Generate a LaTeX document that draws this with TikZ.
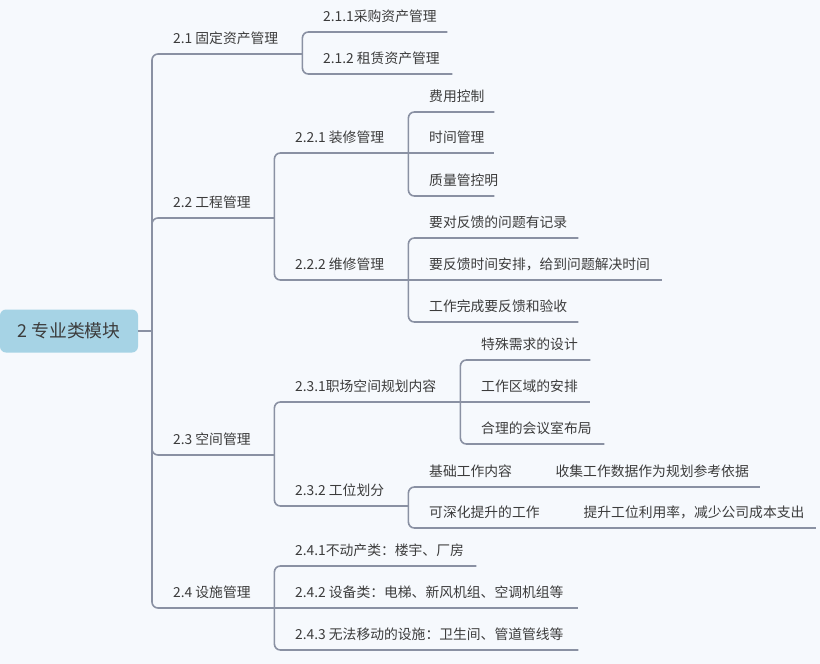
\documentclass[tikz,border=0pt]{standalone}
\usepackage{fontspec}
\setmainfont{Noto Sans CJK SC}
\definecolor{bgblue}{RGB}{246,249,253}
\definecolor{rootblue}{RGB}{166,211,229}
\definecolor{linegray}{RGB}{138,145,163}
\definecolor{txtgray}{RGB}{60,60,60}

\begin{document}
\begin{tikzpicture}[
    x=1pt, y=-1pt,
    tpad/.code={\def\tpad{#1}},
    root/.style={fill=rootblue, rounded corners=6pt, minimum width=138pt, minimum height=43pt, text=txtgray, font=\fontsize{17.8}{20}\selectfont},
    topic/.style={tpad=21pt, anchor=south west, inner sep=0pt, minimum height=31pt, text=txtgray, font=\fontsize{13.8}{16}\selectfont,
        execute at begin node={\hbox to #1\bgroup\hskip\tpad}, execute at end node={\hss\egroup}},
    tail/.style={topic=#1, tpad=8pt},
    link/.style={draw=linegray, line width=1.6pt, rounded corners=6pt}
]
    % Canvas
    \fill[bgblue] (0,0) rectangle (820,664);
    \useasboundingbox (0,0) rectangle (820,664);

    % Root
    \node[root] (root) at (69,331) {2 专业类模块};
    \coordinate (trunk) at (152,331);

    % Main branches
    \node[topic=150pt] (n21) at (152,54) {2.1 固定资产管理};
    \node[topic=122pt] (n22) at (152,218) {2.2 工程管理};
    \node[topic=122pt] (n23) at (152,455) {2.3 空间管理};
    \node[topic=122pt] (n24) at (152,608) {2.4 设施管理};

    % 2.1
    \node[topic=145pt] (n211) at (302,32) {2.1.1采购资产管理};
    \node[topic=150pt] (n212) at (302,74) {2.1.2 租赁资产管理};

    % 2.2
    \node[topic=134pt] (n221) at (274,153) {2.2.1 装修管理};
    \node[topic=134pt] (n222) at (274,280) {2.2.2 维修管理};
    \node[topic=86pt] (n2211) at (408,112) {费用控制};
    \node[topic=86pt] (n2212) at (408,153) {时间管理};
    \node[topic=86pt] (n2213) at (408,196) {质量管控明};
    \node[topic=170pt] (n2221) at (408,238) {要对反馈的问题有记录};
    \node[topic=254pt] (n2222) at (408,280) {要反馈时间安排，给到问题解决时间};
    \node[topic=170pt] (n2223) at (408,322) {工作完成要反馈和验收};

    % 2.3
    \node[topic=186pt] (n231) at (274,402) {2.3.1职场空间规划内容};
    \node[topic=134pt] (n232) at (274,506) {2.3.2 工位划分};
    \node[topic=130pt] (n2311) at (460,360) {特殊需求的设计};
    \node[topic=130pt] (n2312) at (460,402) {工作区域的安排};
    \node[topic=144pt] (n2313) at (460,444) {合理的会议室布局};
    \node[topic=139pt] (n2321) at (408,487) {基础工作内容};
    \node[topic=167pt] (n2322) at (408,528) {可深化提升的工作};
    \node[tail=212pt] (n23211) at (n2321.south east) {收集工作数据作为规划参考依据};
    \node[tail=240pt] (n23221) at (n2322.south east) {提升工位利用率，减少公司成本支出};

    % 2.4
    \node[topic=202pt] (n241) at (274,566) {2.4.1不动产类：楼宇、厂房};
    \node[topic=304pt] (n242) at (274,608) {2.4.2 设备类：电梯、新风机组、空调机组等};
    \node[topic=304pt] (n243) at (274,650) {2.4.3 无法移动的设施：卫生间、管道管线等};

    % Connectors
    \draw[link] (root.east) -- (trunk);
    \foreach \c in {n21,n22,n23,n24}
        \draw[link] (trunk) |- (\c.south east);
    \foreach \p/\c in {n21/n211, n21/n212, n22/n221, n22/n222, n221/n2211, n221/n2213,
                       n222/n2221, n222/n2223, n23/n231, n23/n232, n231/n2311, n231/n2313,
                       n232/n2321, n232/n2322, n24/n241, n24/n243}
        \draw[link] (\p.south east) |- (\c.south east);
    \foreach \p/\c in {n221/n2212, n222/n2222, n231/n2312, n2321/n23211, n2322/n23221, n24/n242}
        \draw[link] (\p.south east) -- (\c.south east);
\end{tikzpicture}
\end{document}
